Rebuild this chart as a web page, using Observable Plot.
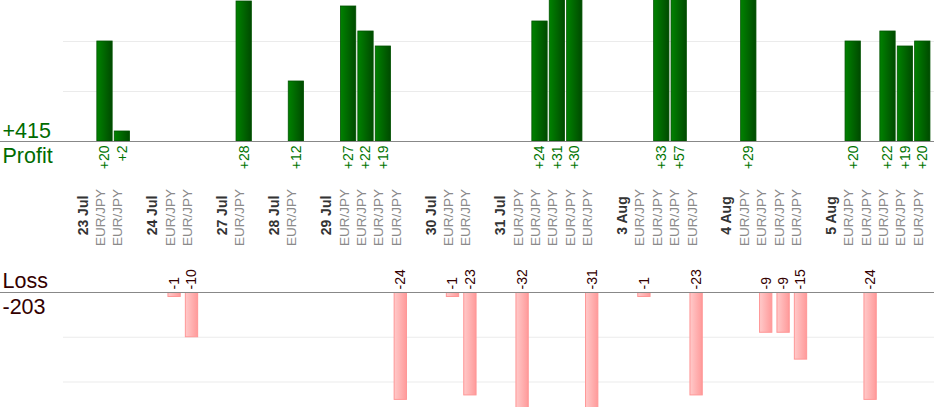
<!DOCTYPE html>
<html><head><meta charset="utf-8">
<script src="https://cdn.jsdelivr.net/npm/d3@7"></script>
<script src="https://cdn.jsdelivr.net/npm/@observablehq/plot@0.6"></script>
<style>body{margin:0;background:#fff} svg{display:block}</style>
</head><body><div id="chart"></div>
<script>
// ---- data ----
const dates = ["23 Jul","24 Jul","27 Jul","28 Jul","29 Jul","30 Jul","31 Jul","3 Aug","4 Aug","5 Aug"];
const tradeDay = [0,0, 1,1, 2, 3, 4,4,4,4, 5,5, 6,6,6,6,6, 7,7,7,7, 8,8,8,8, 9,9,9,9,9];
const tradeResult = [20,2, -1,-10, 28, 12, 27,22,19,-24, -1,-23, -32,24,31,30,-31, -1,33,57,-23, 29,-9,-9,-15, 20,-24,22,19,20];
const tradePair = "EUR/JPY";
const profitTitle = "Profit";
const lossTitle = "Loss";

// ---- build slots (gap, day label, trades) ----
const slots = [];
const trades = [];
dates.forEach((d, i) => {
  slots.push({key: `gap${i}`, kind: "gap"});
  slots.push({key: `day${i}`, kind: "day", label: d});
  tradeResult.forEach((v, j) => {
    if (tradeDay[j] === i) {
      const key = `t${j}`;
      slots.push({key, kind: "trade", label: tradePair});
      trades.push({key, value: v});
    }
  });
});
const profits = trades.filter(t => t.value > 0);
const losses = trades.filter(t => t.value < 0);
const totalProfit = d3.sum(profits, d => d.value);
const totalLoss = d3.sum(losses, d => d.value);

const green = "#006b00";
const labelGreen = "#007400";
const maroon = "#330000";
const font = "'Liberation Sans', Arial, sans-serif";

const xScale = {type: "band", domain: slots.map(s => s.key), range: [61, 931],
  paddingInner: 0.12, paddingOuter: 0.06, round: false, axis: null};

function gradient(id, c0, c1) {
  return () => {
    const defs = d3.create("svg:defs");
    const g = defs.append("linearGradient").attr("id", id).attr("x1", 0).attr("x2", 1).attr("y1", 0).attr("y2", 0);
    g.append("stop").attr("offset", "0%").attr("stop-color", c0);
    g.append("stop").attr("offset", "100%").attr("stop-color", c1);
    return defs.node();
  };
}

const profitChart = Plot.plot({
  width: 934, height: 250,
  marginTop: 0, marginBottom: 109, marginLeft: 0, marginRight: 0,
  x: xScale,
  y: {domain: [0, 28.2], axis: null},
  style: {fontFamily: font, background: "white", overflow: "hidden"},
  marks: [
    gradient("gGreen", "#008200", "#004a00"),
    Plot.ruleY([10, 20], {stroke: "#ebebeb", strokeWidth: 1.2, insetLeft: 63}),
    Plot.barY(profits, {x: "key", y: "value", fill: "url(#gGreen)", stroke: "#005200", strokeWidth: 0.8, clip: true}),
    Plot.ruleY([0], {stroke: "#888"}),
    Plot.text(profits, {x: "key", y: 0, text: d => `+${d.value}`, rotate: -90, textAnchor: "end", dy: 4, fill: labelGreen, fontSize: 14}),
    Plot.text(slots.filter(s => s.kind === "day"), {x: "key", frameAnchor: "bottom", dy: 74, text: "label", rotate: -90, fontWeight: "bold", fontSize: 14, fill: "#333"}),
    Plot.text(slots.filter(s => s.kind === "trade"), {x: "key", frameAnchor: "bottom", dy: 76, text: "label", rotate: -90, fontSize: 13.5, fill: "#8a8a8a"}),
    Plot.text([`+${totalProfit}`], {frameAnchor: "bottom-left", text: d => d, dx: 2, dy: -3.7, lineAnchor: "bottom", textAnchor: "start", fontSize: 21.5, fill: green}),
    Plot.text([profitTitle], {frameAnchor: "bottom-left", text: d => d, dx: 2, dy: 21, lineAnchor: "bottom", textAnchor: "start", fontSize: 21.5, fill: green})
  ]
});

const lossChart = Plot.plot({
  width: 934, height: 170,
  marginTop: 42, marginBottom: 13, marginLeft: 0, marginRight: 0,
  x: xScale,
  y: {domain: [-25.7, 0], axis: null},
  style: {fontFamily: font, background: "white", overflow: "hidden"},
  marks: [
    gradient("gPink", "#ffcaca", "#ff9a9a"),
    Plot.ruleY([-10, -20], {stroke: "#ebebeb", strokeWidth: 1.2, insetLeft: 63}),
    Plot.barY(losses, {x: "key", y: "value", fill: "url(#gPink)", stroke: "#ff9696", strokeWidth: 1, insetLeft: 1.5, insetRight: 1.5, clip: true}),
    Plot.ruleY([0], {stroke: "#888"}),
    Plot.text(losses, {x: "key", y: 0, text: d => `${d.value}`, rotate: -90, textAnchor: "start", dy: -3, fill: maroon, fontSize: 14}),
    Plot.text([lossTitle], {frameAnchor: "top-left", text: d => d, dx: 2, dy: -4.3, lineAnchor: "bottom", textAnchor: "start", fontSize: 21.5, fill: maroon}),
    Plot.text([`${totalLoss}`], {frameAnchor: "top-left", text: d => d, dx: 2, dy: 21.3, lineAnchor: "bottom", textAnchor: "start", fontSize: 21.5, fill: maroon})
  ]
});

document.getElementById("chart").append(profitChart, lossChart);
</script>
</body></html>
